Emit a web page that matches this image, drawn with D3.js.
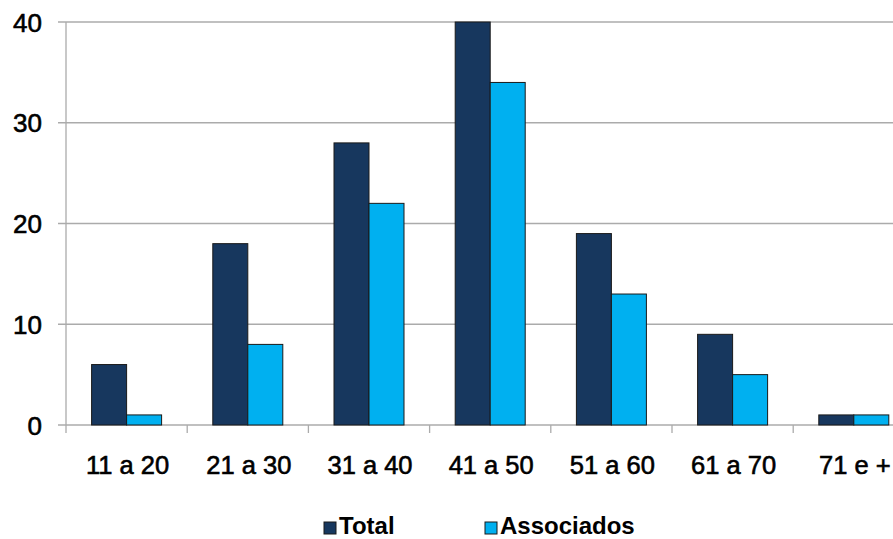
<!DOCTYPE html>
<html><head><meta charset="utf-8">
<script src="https://cdn.jsdelivr.net/npm/d3@7"></script>
<style>body{margin:0;background:#fff;overflow:hidden}svg{display:block}text{font-family:"Liberation Sans",Arial,sans-serif}</style>
</head><body><svg id="c" width="893" height="539"></svg>
<script>
const categories = ["11 a 20","21 a 30","31 a 40","41 a 50","51 a 60","61 a 70","71 e +"];
const seriesNames = ["Total","Associados"];
const totalValues = [6,18,28,40,19,9,1];
const associadosValues = [1,8,22,34,13,5,1];
const yTicks = [0,10,20,30,40];
const colors = ["#17375E","#00B0F0"];

const svg = d3.select("#c");
const plotLeft = 66, bandW = 121.2, plotTop = 22, plotBottom = 425;
const x = d3.scaleBand().domain(categories).range([plotLeft, plotLeft + bandW*categories.length]).paddingInner(0).paddingOuter(0);
const y = d3.scaleLinear().domain([0,40]).range([plotBottom, plotTop]);
const xs = d3.scaleBand().domain(seriesNames).range([25.6, bandW-25.6]);

// gridlines
svg.append("g").selectAll("line").data(yTicks).join("line")
  .attr("x1", plotLeft-8).attr("x2", 893).attr("y1", d=>y(d)).attr("y2", d=>y(d))
  .attr("stroke", "#ABABAB").attr("stroke-width", 1.3);
// y axis line
svg.append("line").attr("x1", plotLeft).attr("x2", plotLeft).attr("y1", plotTop).attr("y2", plotBottom+8)
  .attr("stroke", "#ABABAB").attr("stroke-width", 1.3);
// category ticks
svg.append("g").selectAll("line").data(categories.slice(1)).join("line")
  .attr("x1", d=>x(d)).attr("x2", d=>x(d)).attr("y1", plotBottom).attr("y2", plotBottom+8)
  .attr("stroke", "#ABABAB").attr("stroke-width", 1.3);

// bars
const data = categories.map((c,i)=>({c, vals:[totalValues[i], associadosValues[i]]}));
const g = svg.append("g").selectAll("g").data(data).join("g").attr("transform", d=>`translate(${x(d.c)},0)`);
g.selectAll("rect").data(d=>d.vals.map((v,j)=>({v, s:seriesNames[j], j}))).join("rect")
  .attr("x", d=>xs(d.s)).attr("width", xs.bandwidth())
  .attr("y", d=>y(d.v)).attr("height", d=>plotBottom - y(d.v))
  .attr("fill", d=>colors[d.j]).attr("stroke", "#1a1a1a").attr("stroke-width", 1);

// y labels
svg.append("g").selectAll("text").data(yTicks).join("text")
  .attr("x", 42).attr("y", d=>y(d)+9.5).attr("text-anchor","end")
  .attr("font-size", 26).attr("fill","#000").attr("stroke","#000").attr("stroke-width",0.6).text(d=>d);
// x labels
svg.append("g").selectAll("text").data(categories).join("text")
  .attr("x", d=>x(d)+bandW/2+1).attr("y", 474).attr("text-anchor","middle")
  .attr("font-size", 25.5).attr("fill","#000").attr("stroke","#000").attr("stroke-width",0.6).text(d=>d);

// legend
const legX = [324, 485];
const leg = svg.append("g").selectAll("g").data(seriesNames).join("g")
  .attr("transform", (d,i)=>`translate(${legX[i]},522)`);
leg.append("rect").attr("width", 12).attr("height", 12).attr("y", 0)
  .attr("fill", (d,i)=>colors[i]).attr("stroke","#1a1a1a").attr("stroke-width",1);
leg.append("text").attr("x", 15).attr("y", 12).attr("font-size", 24).attr("font-weight","bold").attr("fill","#000").text(d=>d);
</script></body></html>
